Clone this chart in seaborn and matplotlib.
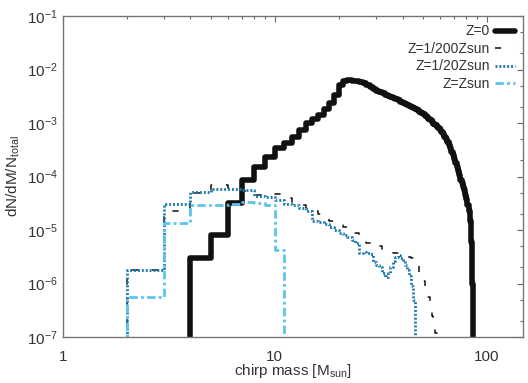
import numpy as np
import pandas as pd
import matplotlib
matplotlib.use("Agg")
import matplotlib.pyplot as plt
import matplotlib.ticker as mticker
import seaborn as sns

# ---- data (bin left edges in Msun, dN/dM/Ntotal per bin) ----
z0_edges = list(range(4, 87))
z0_vals = [3.0e-6, 8.0e-6, 3.2e-5, 8.6e-5, 1.5e-4, 2.3e-4, 3.4e-4, 4.3e-4, 5.5e-4, 7.4e-4,
           1.0e-3, 1.2e-3, 1.4e-3, 1.8e-3, 2.4e-3, 3.3e-3, 5.2e-3, 6.0e-3, 6.3e-3, 6.2e-3,
           6.0e-3, 5.8e-3, 5.5e-3, 5.1e-3, 4.7e-3, 4.3e-3, 4.0e-3, 3.8e-3, 3.6e-3, 3.4e-3,
           3.25e-3, 3.1e-3, 3.0e-3, 2.85e-3, 2.7e-3, 2.5e-3, 2.4e-3, 2.3e-3, 2.2e-3, 2.1e-3,
           2.0e-3, 1.9e-3, 1.8e-3, 1.72e-3, 1.62e-3, 1.53e-3, 1.45e-3, 1.37e-3, 1.28e-3, 1.2e-3,
           1.12e-3, 1.05e-3, 9.8e-4, 9.2e-4, 8.6e-4, 8.0e-4, 7.4e-4, 6.8e-4, 6.3e-4, 5.6e-4,
           5.0e-4, 4.4e-4, 3.9e-4, 3.4e-4, 2.9e-4, 2.5e-4, 2.1e-4, 1.8e-4, 1.5e-4, 1.25e-4,
           1.05e-4, 8.8e-5, 7.5e-5, 6.4e-5, 5.5e-5, 4.6e-5, 3.8e-5, 3.0e-5, 2.3e-5, 1.5e-5,
           6.0e-6, 1.0e-6]

z200_edges = list(range(2, 59))
z200_vals = [1.8e-6, 2.3e-5, 5.0e-5, 7.0e-5, 6.0e-5, 5.4e-5, 4.6e-5, 4.5e-5, 4.7e-5, 4.0e-5,
             3.4e-5, 3.0e-5, 2.6e-5, 2.3e-5, 2.0e-5, 1.7e-5, 1.5e-5, 1.35e-5, 1.25e-5, 1.15e-5,
             1.1e-5, 9.5e-6, 8.9e-6, 7.5e-6, 6.5e-6, 5.8e-6, 5.8e-6, 5.9e-6, 5.8e-6, 5.0e-6,
             4.5e-6, 4.2e-6, 4.0e-6, 3.9e-6, 3.8e-6, 3.8e-6, 3.7e-6, 3.6e-6, 3.4e-6, 3.3e-6,
             3.2e-6, 3.1e-6, 3.0e-6, 2.8e-6, 2.6e-6, 2.2e-6, 1.6e-6, 1.3e-6, 1.1e-6, 9.0e-7,
             7.0e-7, 5.5e-7, 4.3e-7, 2.5e-7, 1.5e-7, 1.2e-7]

z20_edges = list(range(2, 47))
z20_vals = [1.8e-6, 3.1e-5, 5.2e-5, 5.9e-5, 5.8e-5, 5.6e-5, 4.4e-5, 4.1e-5, 3.7e-5, 3.1e-5,
            2.9e-5, 2.6e-5, 2.3e-5, 1.5e-5, 1.4e-5, 1.3e-5, 1.15e-5, 1.0e-5, 9.0e-6, 8.2e-6,
            7.4e-6, 6.5e-6, 5.7e-6, 3.8e-6, 3.9e-6, 3.7e-6, 3.5e-6, 2.5e-6, 2.2e-6, 2.0e-6,
            1.6e-6, 1.3e-6, 1.6e-6, 2.0e-6, 2.6e-6, 3.1e-6, 3.4e-6, 3.0e-6, 2.7e-6, 2.2e-6,
            1.8e-6, 1.4e-6, 9.0e-7, 5.0e-7]

zsun_edges = list(range(2, 12))
zsun_vals = [5.6e-7, 1.35e-5, 2.9e-5, 3.0e-5, 3.1e-5, 3.3e-5, 3.2e-5, 3.0e-5, 4.3e-6]

labels = ["Z=0", "Z=1/200Zsun", "Z=1/20Zsun", "Z=Zsun"]
x_ticks = [1, 10, 100]
x_ticklabels = ["1", "10", "100"]
y_ticks = [1e-7, 1e-6, 1e-5, 1e-4, 1e-3, 1e-2, 1e-1]
y_ticklabels = [r"$10^{-7}$", r"$10^{-6}$", r"$10^{-5}$", r"$10^{-4}$",
                r"$10^{-3}$", r"$10^{-2}$", r"$10^{-1}$"]

FLOOR = 1e-9

def step_frame(edges, vals):
    x = [edges[0]] + list(edges)
    y = [FLOOR] + list(vals) + [FLOOR]
    return pd.DataFrame({"M": x, "v": y})

sns.set_theme(style="white")
plt.rcParams["font.family"] = ["Liberation Sans", "DejaVu Sans"]
plt.rcParams["mathtext.fontset"] = "custom"
plt.rcParams["mathtext.rm"] = "Liberation Sans"
plt.rcParams["mathtext.it"] = "Liberation Sans:italic"
plt.rcParams["mathtext.bf"] = "Liberation Sans:bold"

fig = plt.figure(figsize=(5.28, 3.83), dpi=100)
ax = fig.add_axes([0.119, 0.12, 0.8715, 0.838])

styles = [
    dict(color="#111111", linewidth=4.0, linestyle="-"),
    dict(color="#111111", linewidth=1.1, linestyle=(0, (4, 9))),
    dict(color="#1a78ad", linewidth=2.0, linestyle=(0, (0.7, 0.7))),
    dict(color="#5cc4ee", linewidth=2.0, linestyle=(0, (3, 1.2, 1, 1.2))),
]
series = [(z0_edges, z0_vals), (z200_edges, z200_vals), (z20_edges, z20_vals), (zsun_edges, zsun_vals)]

for (e, v), lab, st in zip(series, labels, styles):
    df = step_frame(e, v)
    sns.lineplot(data=df, x="M", y="v", estimator=None, sort=False,
                 drawstyle="steps-post", label=lab, ax=ax, **st)

ax.set_xscale("log")
ax.set_yscale("log")
ax.set_xlim(1, 148)
ax.set_ylim(1e-7, 1e-1)

ax.set_xticks(x_ticks)
ax.set_xticklabels(x_ticklabels)
ax.set_yticks(y_ticks)
ax.set_yticklabels(y_ticklabels)
ax.xaxis.set_minor_locator(mticker.LogLocator(base=10, subs=np.arange(2, 10)))
ax.xaxis.set_minor_formatter(mticker.NullFormatter())
ax.yaxis.set_minor_locator(mticker.LogLocator(base=10, subs=[2, 5]))
ax.yaxis.set_minor_formatter(mticker.NullFormatter())

ax.tick_params(which="both", direction="in", top=True, right=True, color="#666666",
               labelcolor="#333333", labelsize=11)
ax.tick_params(which="major", length=4, width=0.8)
ax.tick_params(which="minor", length=2.5, width=0.8)
ax.tick_params(axis="x", pad=9)
for s in ax.spines.values():
    s.set_color("#777777")
    s.set_linewidth(1.0)

ax.set_xlabel(r"chirp mass [M$_{\rm sun}$]", fontsize=11, color="#333333", labelpad=-1)
ax.set_ylabel(r"dN/dM/N$_{\rm total}$", fontsize=11, color="#333333", labelpad=4)

leg = ax.legend(loc="upper right", frameon=False, markerfirst=False, fontsize=10,
                handlelength=1.4, handletextpad=0.4, labelspacing=0.25,
                borderaxespad=0.3, borderpad=0.3)
for t in leg.get_texts():
    t.set_color("#333333")

fig.savefig("out.png", dpi=100)
